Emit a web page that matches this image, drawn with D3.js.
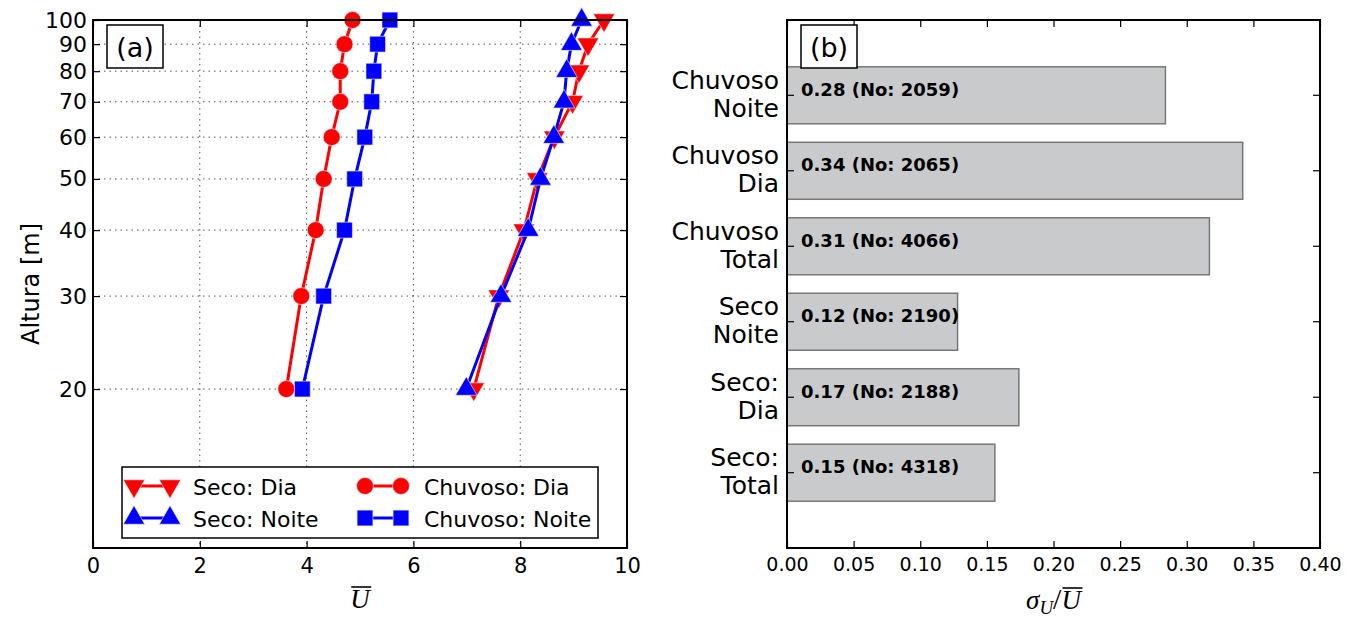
<!DOCTYPE html>
<html>
<head>
<meta charset="utf-8">
<script src="https://cdn.jsdelivr.net/npm/d3@7"></script>
<style>
  body { margin: 0; background: #fff; }
  text { font-family: "DejaVu Sans", sans-serif; }
</style>
</head>
<body>
<div id="chart"></div>
<script>
// frame and panel boxes
const FRAME_WIDTH = 1359;
const FRAME_HEIGHT = 617;
const PANEL_A = {left: 93, right: 627, top: 20, bottom: 548};
const PANEL_B = {left: 787, right: 1320, top: 20, bottom: 548};

// panel (a) data: mean wind profile
const HEIGHTS = [20, 30, 40, 50, 60, 70, 80, 90, 100];
const SECO_DIA = [7.13, 7.60, 8.07, 8.32, 8.64, 8.98, 9.10, 9.27, 9.57];
const SECO_NOITE = [6.99, 7.64, 8.15, 8.38, 8.63, 8.82, 8.87, 8.96, 9.15];
const CHUVOSO_DIA = [3.62, 3.90, 4.17, 4.32, 4.47, 4.63, 4.63, 4.71, 4.86];
const CHUVOSO_NOITE = [3.92, 4.32, 4.71, 4.90, 5.09, 5.22, 5.26, 5.33, 5.56];
const X_TICKS_A = [0, 2, 4, 6, 8, 10];
const Y_TICKS_A = [20, 30, 40, 50, 60, 70, 80, 90, 100];

// panel (b) data: sigma_U / U, bottom to top
const CATEGORIES = ["Seco:|Total", "Seco:|Dia", "Seco|Noite", "Chuvoso|Total", "Chuvoso|Dia", "Chuvoso|Noite"];
const RATIO = [0.156, 0.174, 0.128, 0.317, 0.342, 0.284];
const RATIO_LABEL = ["0.15", "0.17", "0.12", "0.31", "0.34", "0.28"];
const COUNTS = [4318, 2188, 2190, 4066, 2065, 2059];
const X_TICKS_B = [0, 0.05, 0.10, 0.15, 0.20, 0.25, 0.30, 0.35, 0.40];

const svg = d3.select("#chart")
  .append("svg")
  .attr("width", FRAME_WIDTH)
  .attr("height", FRAME_HEIGHT);

// ---------- panel (a) ----------
const xA = d3.scaleLinear().domain([0, 10]).range([PANEL_A.left, PANEL_A.right]);
const yA = d3.scaleLog().domain([10, 100]).range([PANEL_A.bottom, PANEL_A.top]);

// dotted grid
svg.append("g").selectAll("line")
  .data(X_TICKS_A.slice(1, -1))
  .enter().append("line")
  .attr("x1", d => xA(d)).attr("x2", d => xA(d))
  .attr("y1", PANEL_A.top).attr("y2", PANEL_A.bottom)
  .attr("stroke", "#555").attr("stroke-width", 1).attr("stroke-dasharray", "1.5,4");
svg.append("g").selectAll("line")
  .data(Y_TICKS_A.slice(0, -1))
  .enter().append("line")
  .attr("x1", PANEL_A.left).attr("x2", PANEL_A.right)
  .attr("y1", d => yA(d)).attr("y2", d => yA(d))
  .attr("stroke", "#555").attr("stroke-width", 1).attr("stroke-dasharray", "1.5,4");

// axes with inward ticks
function styleAxis(g, size) {
  g.select(".domain").remove();
  g.selectAll(".tick line").attr("stroke", "#000").attr("stroke-width", 1.2);
  g.selectAll(".tick text").attr("font-size", size).attr("font-family", "DejaVu Sans").attr("fill", "#000");
}

svg.append("g")
  .attr("transform", "translate(0," + PANEL_A.bottom + ")")
  .call(d3.axisBottom(xA).tickValues(X_TICKS_A).tickFormat(d3.format("d")).tickSizeInner(-7).tickSizeOuter(0).tickPadding(10))
  .call(g => styleAxis(g, 21));
svg.append("g")
  .attr("transform", "translate(0," + PANEL_A.top + ")")
  .call(d3.axisTop(xA).tickValues(X_TICKS_A).tickSizeInner(-7).tickSizeOuter(0).tickFormat(""))
  .call(g => styleAxis(g, 21));
svg.append("g")
  .attr("transform", "translate(" + PANEL_A.left + ",0)")
  .call(d3.axisLeft(yA).tickValues(Y_TICKS_A).tickFormat(d3.format("d")).tickSizeInner(-7).tickSizeOuter(0).tickPadding(6))
  .call(g => styleAxis(g, 22));
svg.append("g")
  .attr("transform", "translate(" + PANEL_A.right + ",0)")
  .call(d3.axisRight(yA).tickValues(Y_TICKS_A).tickSizeInner(-7).tickSizeOuter(0).tickFormat(""))
  .call(g => styleAxis(g, 22));

// series
const SERIES = [
  {name: "Seco: Dia", values: SECO_DIA, color: "#ff0000", shape: "down"},
  {name: "Seco: Noite", values: SECO_NOITE, color: "#0000ff", shape: "up"},
  {name: "Chuvoso: Dia", values: CHUVOSO_DIA, color: "#ff0000", shape: "circle"},
  {name: "Chuvoso: Noite", values: CHUVOSO_NOITE, color: "#0000ff", shape: "square"}
];

function markerPath(shape) {
  if (shape === "circle") return d3.symbol(d3.symbolCircle, 225)();
  if (shape === "square") return d3.symbol(d3.symbolSquare, 250)();
  return d3.symbol(d3.symbolTriangle, 200)();
}
function markerRot(shape) {
  return shape === "down" ? " rotate(180)" : "";
}

const line = d3.line()
  .x(d => xA(d[0]))
  .y(d => yA(d[1]));

SERIES.forEach(s => {
  const pts = s.values.map((v, i) => [v, HEIGHTS[i]]);
  svg.append("path")
    .datum(pts)
    .attr("d", line)
    .attr("fill", "none")
    .attr("stroke", s.color)
    .attr("stroke-width", 3);
  svg.append("g").selectAll("path")
    .data(pts)
    .enter().append("path")
    .attr("d", markerPath(s.shape))
    .attr("transform", d => "translate(" + xA(d[0]) + "," + yA(d[1]) + ")" + markerRot(s.shape))
    .attr("fill", s.color)
    .attr("stroke", "#eef")
    .attr("stroke-width", 0.6);
});

// frame
svg.append("rect")
  .attr("x", PANEL_A.left).attr("y", PANEL_A.top)
  .attr("width", PANEL_A.right - PANEL_A.left).attr("height", PANEL_A.bottom - PANEL_A.top)
  .attr("fill", "none").attr("stroke", "#000").attr("stroke-width", 2);

// legend
const legend = svg.append("g").attr("transform", "translate(122,467)");
legend.append("rect")
  .attr("width", 476).attr("height", 71)
  .attr("fill", "#fff").attr("stroke", "#000").attr("stroke-width", 1.5);
SERIES.forEach((s, i) => {
  const col = Math.floor(i / 2), row = i % 2;
  const g = legend.append("g").attr("transform", "translate(" + (col * 231) + "," + (row * 32) + ")");
  g.append("line")
    .attr("x1", 12).attr("x2", 48).attr("y1", 19).attr("y2", 19)
    .attr("stroke", s.color).attr("stroke-width", 3);
  [12, 48].forEach(px => {
    g.append("path")
      .attr("d", markerPath(s.shape))
      .attr("transform", "translate(" + px + ",19)" + markerRot(s.shape))
      .attr("fill", s.color).attr("stroke", "#eef").attr("stroke-width", 0.6);
  });
  g.append("text")
    .attr("x", 71).attr("y", 20)
    .attr("dominant-baseline", "central")
    .attr("font-size", 22)
    .text(s.name);
});

// panel tag
function panelTag(x, y, label) {
  svg.append("rect")
    .attr("x", x).attr("y", y).attr("width", 56).attr("height", 43)
    .attr("fill", "#fff").attr("stroke", "#000").attr("stroke-width", 1.5);
  svg.append("text")
    .attr("x", x + 28).attr("y", y + 22)
    .attr("text-anchor", "middle").attr("dominant-baseline", "central")
    .attr("font-size", 27)
    .text(label);
}
panelTag(PANEL_A.left + 14, PANEL_A.top + 5, "(a)");

// axis titles
svg.append("text")
  .attr("transform", "translate(31," + ((PANEL_A.top + PANEL_A.bottom) / 2) + ") rotate(-90)")
  .attr("text-anchor", "middle").attr("dominant-baseline", "central")
  .attr("font-size", 24)
  .text("Altura [m]");

function overlineLabel(cx, cy, parts) {
  const t = svg.append("text")
    .attr("x", cx).attr("y", cy)
    .attr("text-anchor", "middle")
    .attr("font-family", "Liberation Serif").attr("font-style", "italic")
    .attr("font-size", 27);
  const spans = parts.map(p => t.append("tspan")
    .attr("font-size", p.size || 27)
    .attr("dy", p.dy || 0)
    .attr("font-style", p.upright ? "normal" : "italic")
    .style("font-family", "Liberation Serif")
    .text(p.text));
  parts.forEach((p, i) => {
    if (p.over) {
      const b = spans[i].node().getBBox();
      svg.append("line")
        .attr("x1", b.x + 1).attr("x2", b.x + b.width)
        .attr("y1", b.y + 3).attr("y2", b.y + 3)
        .attr("stroke", "#000").attr("stroke-width", 1.6);
    }
  });
}
overlineLabel((PANEL_A.left + PANEL_A.right) / 2, 608, [{text: "U", over: true}]);
overlineLabel((PANEL_B.left + PANEL_B.right) / 2, 609, [
  {text: "σ"},
  {text: "U", size: 19, dy: 5},
  {text: "/", dy: -5, size: 30, upright: true},
  {text: "U", over: true}
]);

// ---------- panel (b) ----------
const xB = d3.scaleLinear().domain([0, 0.4]).range([PANEL_B.left, PANEL_B.right]);
const yB = d3.scaleBand()
  .domain(CATEGORIES)
  .range([PANEL_B.bottom, PANEL_B.top])
  .paddingInner(0.245)
  .paddingOuter(0.62);

svg.append("g").selectAll("rect")
  .data(CATEGORIES)
  .enter().append("rect")
  .attr("x", xB(0))
  .attr("y", d => yB(d))
  .attr("width", (d, i) => xB(RATIO[i]) - xB(0))
  .attr("height", yB.bandwidth())
  .attr("fill", "#c9cacc")
  .attr("stroke", "#777")
  .attr("stroke-width", 1.5);

svg.append("g").selectAll("text")
  .data(CATEGORIES)
  .enter().append("text")
  .attr("x", xB(0) + 14)
  .attr("y", d => yB(d) + yB.bandwidth() / 2 - 6)
  .attr("dominant-baseline", "central")
  .attr("font-size", 18)
  .attr("font-weight", "bold")
  .text((d, i) => RATIO_LABEL[i] + " (No: " + COUNTS[i] + ")");

const yAxisB = svg.append("g")
  .attr("transform", "translate(" + PANEL_B.left + ",0)")
  .call(d3.axisLeft(yB).tickSizeInner(-7).tickSizeOuter(0).tickPadding(8).tickFormat(""))
  .call(g => styleAxis(g, 25));
yAxisB.selectAll(".tick").each(function(d) {
  const lines = d.split("|");
  const t = d3.select(this).select("text")
    .attr("font-size", 25)
    .attr("dy", null);
  lines.forEach((ln, k) => {
    t.append("tspan")
      .attr("x", -8)
      .attr("y", (k - 0.5) * 28 - 1)
      .attr("dominant-baseline", "central")
      .text(ln);
  });
});
svg.append("g")
  .attr("transform", "translate(" + PANEL_B.right + ",0)")
  .call(d3.axisRight(yB).tickSizeInner(-7).tickSizeOuter(0).tickFormat(""))
  .call(g => styleAxis(g, 25));
svg.append("g")
  .attr("transform", "translate(0," + PANEL_B.bottom + ")")
  .call(d3.axisBottom(xB).tickValues(X_TICKS_B).tickFormat(d3.format(".2f")).tickSizeInner(-7).tickSizeOuter(0).tickPadding(10))
  .call(g => styleAxis(g, 19));
svg.append("g")
  .attr("transform", "translate(0," + PANEL_B.top + ")")
  .call(d3.axisTop(xB).tickValues(X_TICKS_B).tickSizeInner(-7).tickSizeOuter(0).tickFormat(""))
  .call(g => styleAxis(g, 19));

svg.append("rect")
  .attr("x", PANEL_B.left).attr("y", PANEL_B.top)
  .attr("width", PANEL_B.right - PANEL_B.left).attr("height", PANEL_B.bottom - PANEL_B.top)
  .attr("fill", "none").attr("stroke", "#000").attr("stroke-width", 2);

panelTag(PANEL_B.left + 14, PANEL_B.top + 5, "(b)");
</script>
</body>
</html>
